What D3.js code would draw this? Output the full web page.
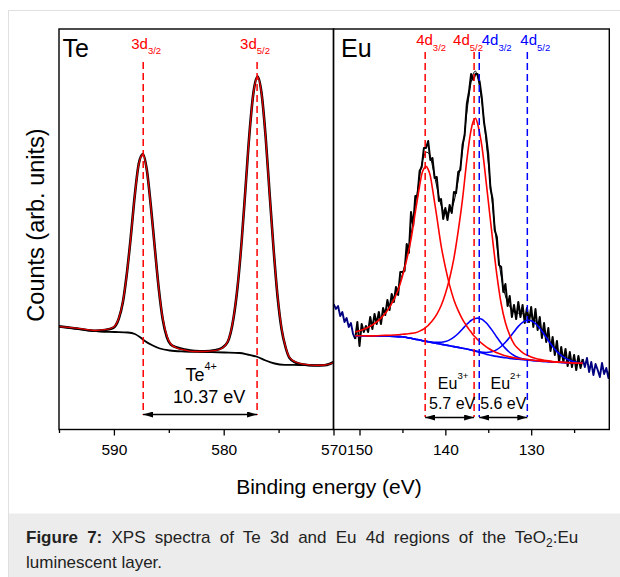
<!DOCTYPE html>
<html>
<head>
<meta charset="utf-8">
<title>XPS spectra of Te 3d and Eu 4d</title>
<script src="https://cdn.jsdelivr.net/npm/d3@7/dist/d3.min.js"></script>
<style>
  body { margin: 0; background: #fff; }
  svg { display: block; font-family: "Liberation Sans", Arial, sans-serif; }
</style>
</head>
<body>
<svg id="figure" width="620" height="577"></svg>
<script>
// ---------- Te 3d region (binding energy in eV, counts in arb. units) ----------
var teEnergy = [595.00, 593.09, 591.73, 590.82, 590.09, 589.55, 589.18, 588.82, 588.45, 588.09,
                587.73, 587.36, 587.00, 586.64, 586.27, 585.91, 585.55, 585.18, 584.82, 584.27,
                583.55, 582.64, 581.73, 580.82, 580.18, 579.64, 579.09, 578.73, 578.36, 578.00,
                577.64, 577.27, 576.91, 576.55, 576.18, 575.82, 575.45, 575.09, 574.73, 574.36,
                574.00, 573.45, 572.73, 571.73, 570.82, 570.36, 570.00];
var teCounts = [103.6, 101.0, 99.2, 100.0, 102.0, 111.5, 128.0, 156.5, 194.5, 235.5,
                266.5, 276.0, 260.0, 224.5, 181.5, 141.0, 110.5, 93.0, 85.5, 82.5,
                80.5, 79.0, 78.7, 79.8, 82.0, 88.0, 113.0, 144.0, 189.5, 244.0,
                298.5, 339.0, 353.5, 336.5, 293.0, 236.5, 180.0, 133.0, 101.0, 82.5,
                72.0, 67.5, 65.5, 64.5, 64.8, 66.0, 67.8];
var teFit = [103.3, 101.3, 99.5, 100.3, 102.5, 112.0, 128.5, 156.0, 194.0, 235.0,
             266.0, 275.5, 259.5, 224.0, 181.0, 141.0, 111.7, 94.3, 86.0, 82.0,
             80.0, 78.5, 78.5, 79.3, 81.5, 88.2, 113.6, 144.5, 189.0, 243.5,
             298.0, 338.6, 353.0, 336.0, 292.5, 236.0, 180.0, 134.0, 102.0, 83.0,
             72.5, 68.0, 65.8, 64.7, 65.0, 66.0, 67.5];
var teBgEnergy = [595.00, 593.55, 592.18, 591.27, 589.91, 588.73, 588.09, 587.64, 587.18, 586.55,
                  585.82, 584.91, 583.55, 581.73, 579.91, 578.55, 577.82, 576.91, 576.18, 575.36,
                  574.45, 573.09, 571.73, 570.82, 570.36, 570.00];
var teBackground = [103.3, 101.5, 99.5, 98.5, 98.0, 97.5, 96.0, 93.0, 89.0, 85.0,
                    81.5, 79.5, 78.5, 78.0, 77.5, 77.0, 75.5, 73.0, 69.5, 66.5,
                    65.2, 65.0, 64.7, 65.0, 66.0, 67.5];
var tePeaks = [587.33, 576.96];
var tePeakLabels = ["3/2", "5/2"];
var teTicks = [590, 580, 570];
var teMinorTicks = [595, 585, 575];

// ---------- Eu 4d region ----------
var euEnergy = [153, 152.75, 152.5, 152.25, 152, 151.75, 151.5, 151.25, 151, 150.75,
                150.5, 150.25, 150, 149.75, 149.5, 149.25, 149, 148.75, 148.5, 148.25,
                148, 147.75, 147.5, 147.25, 147, 146.75, 146.5, 146.25, 146, 145.75,
                145.5, 145.25, 145, 144.75, 144.5, 144.25, 144, 143.75, 143.5, 143.25,
                143, 142.75, 142.5, 142.25, 142, 141.75, 141.5, 141.25, 141, 140.75,
                140.5, 140.25, 140, 139.75, 139.5, 139.25, 139, 138.75, 138.5, 138.25,
                138, 137.75, 137.5, 137.25, 137, 136.75, 136.5, 136.25, 136, 135.75,
                135.5, 135.25, 135, 134.75, 134.5, 134.25, 134, 133.75, 133.5, 133.25,
                133, 132.75, 132.5, 132.25, 132, 131.75, 131.5, 131.25, 131, 130.75,
                130.5, 130.25, 130, 129.75, 129.5, 129.25, 129, 128.75, 128.5, 128.25,
                128, 127.75, 127.5, 127.25, 127, 126.75, 126.5, 126.25, 126, 125.75,
                125.5, 125.25, 125, 124.75, 124.5, 124.25, 124, 123.75, 123.5, 123.25,
                123, 122.75, 122.5, 122.25, 122, 121.75, 121.5, 121.25, 121, 120.75];
var euCounts = [126, 121, 124, 114, 118, 108, 112, 103, 107, 96,
                91, 108, 84, 106, 98, 104, 98, 113, 101, 116,
                106, 118, 106, 122, 115, 130, 120, 136, 128, 143,
                135, 158, 158, 159, 186, 177, 218, 204, 234, 234,
                259, 263, 282, 282, 289, 270, 272, 252, 253, 229,
                231, 211, 222, 210, 225, 217, 238, 237, 258, 260,
                285, 295, 326, 338, 356, 350, 356, 356, 348, 332,
                308, 294, 276, 242, 231, 200, 193, 165, 163, 138,
                146, 124, 134, 113, 125, 111, 128, 113, 125, 107,
                122, 108, 123, 103, 121, 100, 113, 92, 107, 88,
                102, 79, 93, 75, 89, 68, 83, 68, 81, 64,
                78, 63, 75, 60, 74, 62, 71, 63, 72, 58,
                68, 55, 66, 60, 53, 67, 56, 62, 52, 64];
var euFitStart = 150.5, euFitEnd = 124;

var euFitEnergy = [150.5, 149.5, 148.5, 147.5, 146.5, 145.5, 145, 144.5, 144, 143.5,
                   143, 142.75, 142.5, 142.25, 142, 141.75, 141.5, 141, 140.5, 140,
                   139.5, 139, 138.5, 138, 137.5, 137.25, 137, 136.75, 136.5, 136.25,
                   136, 135.75, 135.5, 135.25, 135, 134.5, 134, 133.5, 133, 132.5,
                   132, 131.5, 131, 130.75, 130.5, 130.25, 130, 129.75, 129.5, 129,
                   128.5, 128, 127.5, 127, 126, 125, 124];
var euBackground = [94.3, 94.2, 94.1, 94.0, 93.8, 93.4, 93.2, 92.5, 91.7, 90.8,
                    90.0, 89.5, 89.0, 88.6, 88.2, 87.8, 87.4, 86.6, 85.8, 85.0,
                    84.2, 83.4, 82.6, 81.8, 81.0, 80.5, 80.0, 79.3, 78.8, 78.2,
                    77.6, 77.0, 76.4, 75.8, 75.3, 74.4, 73.6, 72.9, 72.2, 71.6,
                    71.1, 70.7, 70.3, 70.1, 70.0, 69.8, 69.6, 69.4, 69.2, 68.9,
                    68.6, 68.3, 68.0, 67.8, 67.4, 67.0, 66.7];
var eu3Plus4d32 = [98.0, 100.7, 105.0, 111.9, 122.7, 140.1, 153.6, 170.4, 190.6, 217.7,
                   244.0, 255.8, 261.4, 263.6, 260.6, 254.1, 241.4, 213.5, 184.7, 162.9,
                   144.6, 130.1, 119.4, 110.7, 103.8, 100.6, 97.9, 95.1, 92.8, 90.5,
                   88.5, 86.6, 84.8, 83.2, 81.8, 79.3, 77.3, 75.7, 74.2, 73.1,
                   72.2, 71.5, 71.0, 70.7, 70.5, 70.2, 70.0, 69.7, 69.5, 69.1,
                   68.8, 68.5, 68.1, 67.9, 67.5, 67.0, 66.7];
var eu3Plus4d52 = [94.3, 94.2, 94.1, 94.5, 94.7, 95.3, 95.8, 96.0, 96.6, 97.3,
                   98.9, 100.0, 101.1, 102.8, 104.5, 106.9, 109.5, 115.7, 124.2, 136.3,
                   151.8, 171.9, 199.1, 230.9, 269.7, 286.7, 300.2, 308.8, 311.8, 306.5,
                   296.6, 284.4, 267.4, 248.2, 229.1, 190.9, 155.2, 126.5, 107.2, 94.9,
                   86.2, 81.2, 77.3, 75.9, 74.9, 74.0, 73.1, 72.2, 71.5, 70.6,
                   69.8, 69.1, 68.5, 68.1, 67.5, 67.0, 66.7];
var eu2Plus4d32 = [94.3, 94.2, 94.1, 94.0, 93.8, 93.4, 93.2, 92.5, 91.7, 90.8,
                   90.0, 89.5, 89.1, 88.7, 88.4, 88.1, 87.8, 87.6, 87.7, 88.4,
                   90.1, 92.8, 96.5, 101.0, 105.7, 107.7, 109.5, 110.7, 111.6, 111.9,
                   111.6, 110.7, 109.2, 107.2, 104.8, 99.1, 92.8, 86.8, 81.6, 77.5,
                   74.5, 72.6, 71.3, 70.7, 70.4, 70.1, 69.8, 69.5, 69.2, 68.9,
                   68.6, 68.3, 68.0, 67.8, 67.4, 67.0, 66.7];
var eu2Plus4d52 = [94.3, 94.2, 94.1, 94.0, 93.8, 93.4, 93.2, 92.5, 91.7, 90.8,
                   90.0, 89.5, 89.0, 88.6, 88.2, 87.8, 87.4, 86.6, 85.8, 85.0,
                   84.2, 83.4, 82.6, 81.8, 81.0, 80.5, 80.1, 79.5, 79.1, 78.6,
                   78.2, 77.9, 77.6, 77.5, 77.7, 78.6, 80.4, 83.5, 87.7, 92.8,
                   98.3, 103.6, 107.6, 108.9, 109.7, 109.8, 109.3, 108.2, 106.5, 101.8,
                   95.8, 89.5, 83.5, 78.4, 71.6, 68.2, 67.0];
var euEnvelope = [98.0, 100.7, 105.0, 112.4, 123.6, 142.0, 156.2, 173.9, 195.5, 224.2,
                  252.9, 266.3, 273.6, 277.9, 277.1, 273.5, 263.9, 243.6, 225.0, 217.6,
                  218.1, 228.0, 249.8, 279.0, 317.2, 334.0, 347.7, 356.2, 358.9, 352.9,
                  342.1, 328.6, 309.8, 288.7, 267.5, 224.7, 184.9, 153.8, 134.1, 123.5,
                  117.9, 116.8, 116.3, 115.9, 115.5, 114.7, 113.4, 111.4, 109.1, 103.7,
                  97.2, 90.5, 84.1, 78.8, 71.8, 68.2, 67.0];
var euPeaks = [142.35, 136.65, 136.05, 130.45];
var euPeakLabels = ["3/2", "5/2", "3/2", "5/2"];
var euPeakColors = ["#ff0000", "#ff0000", "#0000ff", "#0000ff"];
var euTicks = [150, 140, 130];
var euMinorTicks = [145, 135, 125];

// ---------- layout ----------
var svg = d3.select("#figure");
var plotTop = 29, plotBottom = 429.5;

var xTe = d3.scaleLinear().domain([595, 570]).range([59, 333.5]);
var xEu = d3.scaleLinear().domain([153.03, 120.9]).range([333.5, 609.3]);
var y = d3.scaleLinear().domain([0.5, 401]).range([plotBottom, plotTop]);

// page frame and caption box
svg.append("line").attr("x1", 8.5).attr("x2", 8.5).attr("y1", 10).attr("y2", 577)
   .attr("stroke", "#e0e0e0");
svg.append("line").attr("x1", 8.5).attr("x2", 620).attr("y1", 10.5).attr("y2", 10.5)
   .attr("stroke", "#e0e0e0");
svg.append("rect").attr("x", 9).attr("y", 513.5).attr("width", 611).attr("height", 64)
   .attr("fill", "#ececec");

var defs = svg.append("defs");
defs.append("clipPath").attr("id", "clipTe").append("rect")
    .attr("x", xTe.range()[0]).attr("y", plotTop)
    .attr("width", xTe.range()[1] - xTe.range()[0]).attr("height", plotBottom - plotTop);
defs.append("clipPath").attr("id", "clipEu").append("rect")
    .attr("x", xEu.range()[0]).attr("y", plotTop)
    .attr("width", xEu.range()[1] - xEu.range()[0]).attr("height", plotBottom - plotTop);
defs.append("marker").attr("id", "arrowhead")
    .attr("viewBox", "0 0 10 6").attr("refX", 10).attr("refY", 3)
    .attr("markerWidth", 10).attr("markerHeight", 6)
    .attr("markerUnits", "userSpaceOnUse").attr("orient", "auto-start-reverse")
  .append("path").attr("d", "M0,0L10,3L0,6Z").attr("fill", "#000");

function lineFor(x, smooth) {
  var l = d3.line()
    .x(function(d) { return x(d[0]); })
    .y(function(d) { return y(d[1]); });
  if (smooth) l.curve(d3.curveMonotoneX);
  return l;
}

function drawCurve(g, x, data, color, width, smooth) {
  g.append("path")
    .datum(data)
    .attr("fill", "none")
    .attr("stroke", color)
    .attr("stroke-width", width)
    .attr("stroke-linejoin", "round")
    .attr("d", lineFor(x, smooth));
}

// ---------- Te panel ----------
var gTe = svg.append("g").attr("clip-path", "url(#clipTe)");
drawCurve(gTe, xTe, d3.zip(teBgEnergy, teBackground), "#000", 1.8, true);
drawCurve(gTe, xTe, d3.zip(teEnergy, teCounts), "#000", 2.6, true);
drawCurve(gTe, xTe, d3.zip(teEnergy, teFit), "#e00000", 1.3, true);

// ---------- Eu panel ----------
var gEu = svg.append("g").attr("clip-path", "url(#clipEu)");
var euData = d3.zip(euEnergy, euCounts);
drawCurve(gEu, xEu, euData.filter(function(d) { return d[0] >= euFitStart; }), "#000080", 1.9, false);
drawCurve(gEu, xEu, euData.filter(function(d) { return d[0] <= euFitEnd; }), "#000080", 1.9, false);
drawCurve(gEu, xEu, euData.filter(function(d) { return d[0] <= euFitStart && d[0] >= euFitEnd; }), "#000", 2, false);
drawCurve(gEu, xEu, d3.zip(euFitEnergy, euEnvelope), "#000", 1, true);
drawCurve(gEu, xEu, d3.zip(euFitEnergy, euBackground), "#0000ff", 1.6, true);
drawCurve(gEu, xEu, d3.zip(euFitEnergy, eu2Plus4d32), "#0000ff", 1.6, true);
drawCurve(gEu, xEu, d3.zip(euFitEnergy, eu2Plus4d52), "#0000ff", 1.6, true);
drawCurve(gEu, xEu, d3.zip(euFitEnergy, eu3Plus4d32), "#ff0000", 1.6, true);
drawCurve(gEu, xEu, d3.zip(euFitEnergy, eu3Plus4d52), "#ff0000", 1.6, true);

// ---------- peak position markers ----------
svg.selectAll(".te-peak").data(tePeaks).enter().append("line")
  .attr("class", "te-peak")
  .attr("x1", function(d) { return xTe(d); }).attr("x2", function(d) { return xTe(d); })
  .attr("y1", 62).attr("y2", 415)
  .attr("stroke", "#ff0000").attr("stroke-width", 1.5).attr("stroke-dasharray", "7,4");

svg.selectAll(".eu-peak").data(euPeaks).enter().append("line")
  .attr("class", "eu-peak")
  .attr("x1", function(d) { return xEu(d); }).attr("x2", function(d) { return xEu(d); })
  .attr("y1", 52).attr("y2", 417)
  .attr("stroke", function(d, i) { return euPeakColors[i]; })
  .attr("stroke-width", 1.5).attr("stroke-dasharray", "7,4");

var teLabelShift = [-12, -17];
svg.selectAll(".te-label").data(tePeaks).enter().append("text")
  .attr("class", "te-label")
  .attr("x", function(d, i) { return xTe(d) + teLabelShift[i]; })
  .attr("y", 48.5)
  .attr("fill", "#ff0000").attr("font-size", 15)
  .each(function(d, i) {
    var t = d3.select(this);
    t.append("tspan").text("3d");
    t.append("tspan").attr("dy", 5.5).attr("font-size", 9.5).text(tePeakLabels[i]);
  });

var euLabelShift = [-9, -21, 2.5, -7];
svg.selectAll(".eu-label").data(euPeaks).enter().append("text")
  .attr("class", "eu-label")
  .attr("x", function(d, i) { return xEu(d) + euLabelShift[i]; })
  .attr("y", 45)
  .attr("fill", function(d, i) { return euPeakColors[i]; }).attr("font-size", 15)
  .each(function(d, i) {
    var t = d3.select(this);
    t.append("tspan").text("4d");
    t.append("tspan").attr("dy", 5.5).attr("font-size", 9.5).text(euPeakLabels[i]);
  });

// ---------- spin-orbit splitting arrows ----------
function splitArrow(x1, x2, yy) {
  svg.append("line")
    .attr("x1", x1).attr("x2", x2).attr("y1", yy).attr("y2", yy)
    .attr("stroke", "#000").attr("stroke-width", 1.3)
    .attr("marker-start", "url(#arrowhead)").attr("marker-end", "url(#arrowhead)");
}
function ionLabel(cx, yy, ion, charge, size) {
  var t = svg.append("text").attr("x", cx).attr("y", yy)
    .attr("text-anchor", "middle").attr("font-size", size).attr("fill", "#000");
  t.append("tspan").text(ion);
  t.append("tspan").attr("dy", -size * 0.6).attr("font-size", size * 0.6).text(charge);
}

var teMid = (xTe(tePeaks[0]) + xTe(tePeaks[1])) / 2;
splitArrow(xTe(tePeaks[0]), xTe(tePeaks[1]), 414.5);
ionLabel(teMid + 1, 381, "Te", "4+", 18);
svg.append("text").attr("x", teMid + 9).attr("y", 403).attr("text-anchor", "middle")
  .attr("font-size", 18).text(d3.format(".2f")(tePeaks[0] - tePeaks[1]) + " eV");

var eu3Mid = (xEu(euPeaks[0]) + xEu(euPeaks[1])) / 2;
var eu2Mid = (xEu(euPeaks[2]) + xEu(euPeaks[3])) / 2;
splitArrow(xEu(euPeaks[0]), xEu(euPeaks[1]), 417.5);
splitArrow(xEu(euPeaks[2]), xEu(euPeaks[3]), 417.5);
ionLabel(eu3Mid + 3.5, 389, "Eu", "3+", 16);
ionLabel(eu2Mid + 2.5, 389, "Eu", "2+", 16);
svg.append("text").attr("x", eu3Mid + 2.5).attr("y", 408.5).attr("text-anchor", "middle")
  .attr("font-size", 16).text(d3.format(".1f")(euPeaks[0] - euPeaks[1]) + " eV");
svg.append("text").attr("x", eu2Mid).attr("y", 408.5).attr("text-anchor", "middle")
  .attr("font-size", 16).text(d3.format(".1f")(euPeaks[2] - euPeaks[3]) + " eV");

// ---------- frames and axes ----------
[xTe, xEu].forEach(function(x) {
  svg.append("rect")
    .attr("x", x.range()[0]).attr("y", plotTop)
    .attr("width", x.range()[1] - x.range()[0]).attr("height", plotBottom - plotTop)
    .attr("fill", "none").attr("stroke", "#000").attr("stroke-width", 1.4);
});

function bottomAxis(x, values, size, labelled) {
  var ax = d3.axisBottom(x).tickValues(values).tickSize(size).tickSizeOuter(0).tickPadding(8.5);
  if (labelled) ax.tickFormat(d3.format("d"));
  else ax.tickFormat("");
  var g = svg.append("g").attr("transform", "translate(0," + plotBottom + ")").call(ax);
  g.select(".domain").remove();
  g.attr("font-size", 15.5).attr("font-family", "'Liberation Sans', Arial, sans-serif");
  g.selectAll(".tick line").attr("stroke", "#000").attr("stroke-width", 1.3);
  g.selectAll(".tick text").attr("fill", "#000");
}
bottomAxis(xTe, teMinorTicks, 3.5, false);
bottomAxis(xTe, teTicks, 6, true);
bottomAxis(xEu, euMinorTicks, 3.5, false);
bottomAxis(xEu, euTicks, 6, true);

svg.append("text").attr("x", 62.5).attr("y", 56.5).attr("font-size", 25).text("Te");
svg.append("text").attr("x", 341).attr("y", 56.5).attr("font-size", 25).text("Eu");

svg.append("text").attr("x", 329).attr("y", 494).attr("text-anchor", "middle")
  .attr("font-size", 21).text("Binding energy (eV)");
svg.append("text").attr("transform", "translate(44,225) rotate(-90)")
  .attr("text-anchor", "middle").attr("font-size", 23.5).text("Counts (arb. units)");

// ---------- caption ----------
var cap = svg.append("text").attr("x", 26).attr("y", 542.5).attr("font-size", 17)
  .attr("fill", "#222").attr("word-spacing", 4.5);
cap.append("tspan").attr("font-weight", "bold").text("Figure 7:");
cap.append("tspan").text(" XPS spectra of Te 3d and Eu 4d regions of the TeO");
cap.append("tspan").attr("dy", 4).attr("font-size", 12).text("2");
cap.append("tspan").attr("dy", -4).text(":Eu");
svg.append("text").attr("x", 26).attr("y", 567.5).attr("font-size", 17).attr("fill", "#222")
  .text("luminescent layer.");
</script>
</body>
</html>
